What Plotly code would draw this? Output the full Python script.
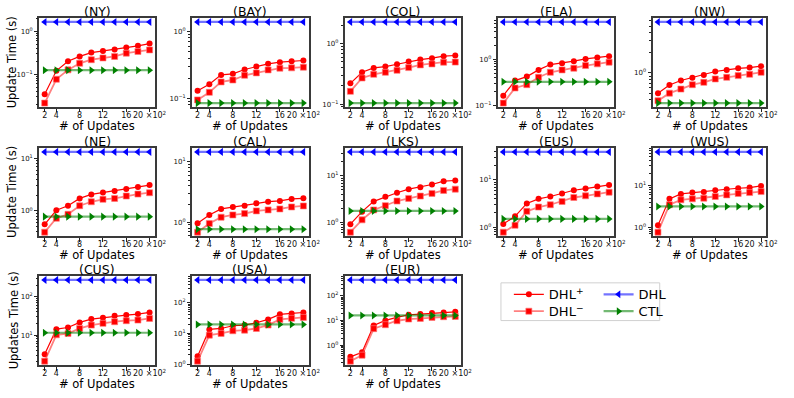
import math
import plotly.graph_objects as go

W, H = 794, 398

updates = [2, 4, 6, 8, 10, 12, 14, 16, 18, 20]
x_tick_vals = [2, 4, 8, 12, 16, 20]
x_tick_text = ["2", "4", "8", "12", "16", "20 \u00d710<sup>2</sup>"]

NY_dhl_plus = [0.034, 0.12, 0.20, 0.26, 0.32, 0.35, 0.38, 0.42, 0.46, 0.52]
NY_dhl_minus = [0.021, 0.076, 0.126, 0.18, 0.218, 0.24, 0.26, 0.31, 0.34, 0.37]
NY_dhl = [1.67, 1.67, 1.67, 1.67, 1.67, 1.67, 1.67, 1.67, 1.67, 1.67]
NY_ctl = [0.124, 0.124, 0.124, 0.124, 0.124, 0.124, 0.124, 0.124, 0.124, 0.124]

BAY_dhl_plus = [0.13, 0.162, 0.224, 0.232, 0.27, 0.30, 0.327, 0.347, 0.359, 0.367]
BAY_dhl_minus = [0.095, 0.123, 0.176, 0.188, 0.221, 0.24, 0.266, 0.282, 0.285, 0.292]
BAY_dhl = [1.38, 1.38, 1.38, 1.38, 1.38, 1.38, 1.38, 1.38, 1.38, 1.38]
BAY_ctl = [0.085, 0.085, 0.085, 0.085, 0.085, 0.085, 0.085, 0.085, 0.085, 0.085]

COL_dhl_plus = [0.221, 0.337, 0.398, 0.419, 0.458, 0.508, 0.548, 0.577, 0.623, 0.64]
COL_dhl_minus = [0.163, 0.271, 0.312, 0.337, 0.364, 0.403, 0.447, 0.464, 0.495, 0.497]
COL_dhl = [2.3, 2.3, 2.3, 2.3, 2.3, 2.3, 2.3, 2.3, 2.3, 2.3]
COL_ctl = [0.104, 0.104, 0.104, 0.104, 0.104, 0.104, 0.104, 0.104, 0.104, 0.104]

FLA_dhl_plus = [0.165, 0.35, 0.427, 0.596, 0.778, 0.832, 0.92, 1.03, 1.10, 1.18]
FLA_dhl_minus = [0.114, 0.242, 0.286, 0.413, 0.53, 0.596, 0.648, 0.741, 0.805, 0.875]
FLA_dhl = [6.5, 6.5, 6.5, 6.5, 6.5, 6.5, 6.5, 6.5, 6.5, 6.5]
FLA_ctl = [0.33, 0.33, 0.33, 0.33, 0.33, 0.33, 0.33, 0.33, 0.33, 0.33]

NW_dhl_plus = [0.50, 0.66, 0.77, 0.85, 0.93, 1.05, 1.11, 1.17, 1.20, 1.26]
NW_dhl_minus = [0.385, 0.50, 0.575, 0.668, 0.724, 0.813, 0.86, 0.912, 0.955, 1.02]
NW_dhl = [5.75, 5.75, 5.75, 5.75, 5.75, 5.75, 5.75, 5.75, 5.75, 5.75]
NW_ctl = [0.355, 0.355, 0.355, 0.355, 0.355, 0.355, 0.355, 0.355, 0.355, 0.355]

NE_dhl_plus = [0.558, 1.03, 1.26, 1.74, 2.07, 2.26, 2.40, 2.62, 2.86, 3.12]
NE_dhl_minus = [0.394, 0.726, 0.865, 1.26, 1.50, 1.67, 1.74, 1.93, 2.10, 2.23]
NE_dhl = [13.4, 13.4, 13.4, 13.4, 13.4, 13.4, 13.4, 13.4, 13.4, 13.4]
NE_ctl = [0.78, 0.78, 0.78, 0.78, 0.78, 0.78, 0.78, 0.78, 0.78, 0.78]

CAL_dhl_plus = [0.96, 1.32, 1.66, 1.79, 1.88, 2.06, 2.19, 2.25, 2.43, 2.49]
CAL_dhl_minus = [0.684, 0.95, 1.21, 1.32, 1.39, 1.54, 1.60, 1.66, 1.79, 1.86]
CAL_dhl = [14.6, 14.6, 14.6, 14.6, 14.6, 14.6, 14.6, 14.6, 14.6, 14.6]
CAL_ctl = [0.767, 0.767, 0.767, 0.767, 0.767, 0.767, 0.767, 0.767, 0.767, 0.767]

LKS_dhl_plus = [0.92, 1.71, 2.84, 3.57, 4.35, 5.2, 5.74, 6.54, 7.7, 7.96]
LKS_dhl_minus = [0.62, 1.14, 1.86, 2.3, 2.89, 3.29, 3.69, 4.21, 4.88, 5.2]
LKS_dhl = [32.7, 32.7, 32.7, 32.7, 32.7, 32.7, 32.7, 32.7, 32.7, 32.7]
LKS_ctl = [1.77, 1.77, 1.77, 1.77, 1.77, 1.77, 1.77, 1.77, 1.77, 1.77]

EUS_dhl_plus = [1.17, 1.70, 3.19, 3.99, 4.47, 5.17, 6.07, 6.58, 7.25, 7.85]
EUS_dhl_minus = [0.785, 1.10, 2.17, 2.67, 2.99, 3.51, 4.26, 4.62, 5.08, 5.51]
EUS_dhl = [39.3, 39.3, 39.3, 39.3, 39.3, 39.3, 39.3, 39.3, 39.3, 39.3]
EUS_ctl = [1.5, 1.5, 1.5, 1.5, 1.5, 1.5, 1.5, 1.5, 1.5, 1.5]

WUS_dhl_plus = [1.12, 4.81, 6.33, 6.81, 7.06, 7.74, 8.18, 8.64, 8.96, 9.82]
WUS_dhl_minus = [0.76, 3.47, 4.56, 4.81, 4.99, 5.47, 5.99, 6.45, 6.81, 7.2]
WUS_dhl = [64.6, 64.6, 64.6, 64.6, 64.6, 64.6, 64.6, 64.6, 64.6, 64.6]
WUS_ctl = [3.16, 3.16, 3.16, 3.16, 3.16, 3.16, 3.16, 3.16, 3.16, 3.16]

CUS_dhl_plus = [3.19, 14.3, 15.8, 21.4, 26.1, 28.3, 31.9, 33.2, 35.3, 39.0]
CUS_dhl_minus = [2.1, 10.2, 11.0, 14.9, 18.2, 20.2, 22.3, 23.7, 24.6, 27.2]
CUS_dhl = [272, 272, 272, 272, 272, 272, 272, 272, 272, 272]
CUS_ctl = [11.5, 11.5, 11.5, 11.5, 11.5, 11.5, 11.5, 11.5, 11.5, 11.5]

USA_dhl_plus = [1.82, 13.5, 14.5, 17.8, 18.7, 22.3, 28.6, 41.7, 44.9, 48.0]
USA_dhl_minus = [1.25, 8.8, 10.0, 12.2, 12.8, 14.5, 18.7, 28.6, 30.9, 33.2]
USA_dhl = [550, 550, 550, 550, 550, 550, 550, 550, 550, 550]
USA_ctl = [19.6, 19.6, 19.6, 19.6, 19.6, 19.6, 19.6, 19.6, 19.6, 19.6]

EUR_dhl_plus = [0.352, 0.541, 6.5, 10.3, 13.6, 17.4, 18.5, 20.3, 21.5, 22.9]
EUR_dhl_minus = [0.236, 0.41, 4.79, 6.92, 10.0, 11.7, 12.4, 13.6, 14.5, 14.9]
EUR_dhl = [437, 437, 437, 437, 437, 437, 437, 437, 437, 437]
EUR_ctl = [16.3, 16.3, 16.3, 16.3, 16.3, 16.3, 16.3, 16.3, 16.3, 16.3]

panels = [
    ("(NY)", NY_dhl_plus, NY_dhl_minus, NY_dhl, NY_ctl),
    ("(BAY)", BAY_dhl_plus, BAY_dhl_minus, BAY_dhl, BAY_ctl),
    ("(COL)", COL_dhl_plus, COL_dhl_minus, COL_dhl, COL_ctl),
    ("(FLA)", FLA_dhl_plus, FLA_dhl_minus, FLA_dhl, FLA_ctl),
    ("(NW)", NW_dhl_plus, NW_dhl_minus, NW_dhl, NW_ctl),
    ("(NE)", NE_dhl_plus, NE_dhl_minus, NE_dhl, NE_ctl),
    ("(CAL)", CAL_dhl_plus, CAL_dhl_minus, CAL_dhl, CAL_ctl),
    ("(LKS)", LKS_dhl_plus, LKS_dhl_minus, LKS_dhl, LKS_ctl),
    ("(EUS)", EUS_dhl_plus, EUS_dhl_minus, EUS_dhl, EUS_ctl),
    ("(WUS)", WUS_dhl_plus, WUS_dhl_minus, WUS_dhl, WUS_ctl),
    ("(CUS)", CUS_dhl_plus, CUS_dhl_minus, CUS_dhl, CUS_ctl),
    ("(USA)", USA_dhl_plus, USA_dhl_minus, USA_dhl, USA_ctl),
    ("(EUR)", EUR_dhl_plus, EUR_dhl_minus, EUR_dhl, EUR_ctl),
]
row_ylabels = ["Update Time (s)", "Update Time (s)", "Updates Time (s)"]

# layout geometry (pixels)
col_x = [(40, 157), (195, 313), (350, 467), (505, 623), (662, 777)]
row_y = [(18, 108), (149, 238), (278, 368)]
FONT = "DejaVu Sans"
FRAME = "#3a3a3a"

def px(x):
    return x / W

def py(y):
    return 1 - y / H

def sup(n):
    s = str(n).replace("-", "\u2212")
    return "10<sup>" + s + "</sup>"

fig = go.Figure()
annotations = []
series_style = [
    ("DHL<sup>+</sup>", "legend", dict(color="red", width=1.2), dict(symbol="circle", size=6, color="red")),
    ("DHL<sup>\u2212</sup>", "legend2", dict(color="rgba(255,60,60,0.65)", width=1.8), dict(symbol="square", size=6, color="red", line=dict(color="rgba(255,120,120,0.8)", width=0.8))),
    ("DHL", "legend3", dict(color="rgba(0,0,255,0.55)", width=2.2), dict(symbol="triangle-left", size=7, color="blue")),
    ("CTL", "legend4", dict(color="rgba(0,128,0,0.55)", width=2.2), dict(symbol="triangle-right", size=7, color="green")),
]

for i, (title, dplus, dminus, dhl, ctl) in enumerate(panels):
    r, c = divmod(i, 5)
    k = "" if i == 0 else str(i + 1)
    x0, x1 = col_x[c]
    y0, y1 = row_y[r]
    series = [dplus, dminus, dhl, ctl]
    for (name, leg, line, marker), vals in zip(series_style, series):
        fig.add_trace(go.Scatter(
            x=updates, y=vals, mode="lines+markers", name=name,
            line=line, marker=marker, xaxis="x" + k, yaxis="y" + k,
            legend=leg, showlegend=(i == 0)))
    allv = [v for s in series for v in s]
    lo, hi = math.log10(min(allv)), math.log10(max(allv))
    m = 0.05 * (hi - lo)
    rlo, rhi = lo - m, hi + m
    dec = list(range(math.floor(rlo), math.ceil(rhi) + 1))
    major = [10 ** d for d in dec if rlo <= d <= rhi]
    minor = [mm * 10 ** d for d in dec for mm in range(2, 10)
             if rlo <= math.log10(mm * 10 ** d) <= rhi]
    fig.layout["xaxis" + k] = dict(
        domain=[px(x0), px(x1)], anchor="y" + k, range=[1.1, 20.9],
        tickmode="array", tickvals=x_tick_vals, ticktext=x_tick_text, tickangle=0,
        ticks="outside", ticklen=3.5, tickwidth=0.8, tickcolor="#222",
        ticklabelstandoff=-4,
        tickfont=dict(family=FONT, size=8, color="#111"),
        showgrid=False, zeroline=False, showline=True, mirror=True,
        linecolor=FRAME, linewidth=1.6)
    fig.layout["yaxis" + k] = dict(
        domain=[py(y1), py(y0)], anchor="x" + k, type="log", range=[rlo, rhi],
        tickmode="array", tickvals=major, ticktext=[sup(int(round(math.log10(v)))) for v in major],
        ticks="outside", ticklen=3.5, tickwidth=0.8, tickcolor="#222",
        minor=dict(tickmode="array", tickvals=minor, ticks="outside", ticklen=2, tickwidth=0.6, tickcolor="#222", showgrid=False),
        tickfont=dict(family=FONT, size=7, color="#111"),
        showgrid=False, zeroline=False, showline=True, mirror=True,
        linecolor=FRAME, linewidth=1.6)
    cx = px((x0 + x1) / 2)
    annotations.append(dict(text=title, x=cx, y=py(y0 + 3), xref="paper", yref="paper",
                            xanchor="center", yanchor="bottom", showarrow=False,
                            font=dict(family=FONT, size=12.5, color="#000")))
    annotations.append(dict(text="# of Updates", x=cx, y=py(y1 + 18.5), xref="paper", yref="paper",
                            xanchor="center", yanchor="middle", showarrow=False,
                            font=dict(family=FONT, size=11.5, color="#000")))
    if c == 0:
        annotations.append(dict(text=row_ylabels[r], x=px(12 if r < 2 else 14), y=py((y0 + y1) / 2),
                                xref="paper", yref="paper",
                                xanchor="center", yanchor="middle", textangle=-90, showarrow=False,
                                font=dict(family=FONT, size=11.5, color="#000")))

legend_common = dict(xanchor="left", yanchor="top", bgcolor="rgba(0,0,0,0)",
                     font=dict(family=FONT, size=13, color="#000"), itemwidth=30)
fig.update_layout(
    width=W, height=H, autosize=False,
    margin=dict(l=0, r=0, t=0, b=0),
    paper_bgcolor="white", plot_bgcolor="white",
    annotations=annotations,
    legend=dict(x=px(516), y=py(281.5), **legend_common),
    legend2=dict(x=px(516), y=py(298.5), **legend_common),
    legend3=dict(x=px(607), y=py(281.5), **legend_common),
    legend4=dict(x=px(607), y=py(298.5), **legend_common),
    shapes=[dict(type="rect", xref="paper", yref="paper", x0=px(508), x1=px(669), y0=py(323), y1=py(285),
                 line=dict(color="#d0d0d0", width=1))],
)

fig.write_html("out.html")
